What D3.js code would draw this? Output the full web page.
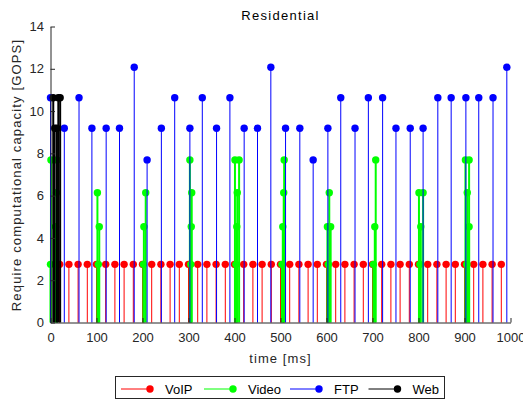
<!DOCTYPE html>
<html>
<head>
<meta charset="utf-8">
<script src="https://cdn.jsdelivr.net/npm/d3@7"></script>
<style>
  html, body { margin: 0; padding: 0; background: #fff; }
  svg { display: block; font-family: "Liberation Sans", Arial, Helvetica, sans-serif; }
</style>
</head>
<body>
<svg id="chart" width="523" height="400"></svg>
<script>
// [time in ms, required capacity in GOPS] per traffic class
const voip = [
  [20,2.75],[40,2.75],[60,2.75],[80,2.75],[100,2.75],[120,2.75],[140,2.75],[160,2.75],[180,2.75],[200,2.75],
  [220,2.75],[240,2.75],[260,2.75],[280,2.75],[300,2.75],[320,2.75],[340,2.75],[360,2.75],[380,2.75],[400,2.75],
  [420,2.75],[440,2.75],[460,2.75],[480,2.75],[500,2.75],[520,2.75],[540,2.75],[560,2.75],[580,2.75],[600,2.75],
  [620,2.75],[640,2.75],[660,2.75],[680,2.75],[700,2.75],[720,2.75],[740,2.75],[760,2.75],[780,2.75],[800,2.75],
  [820,2.75],[840,2.75],[860,2.75],[880,2.75],[900,2.75],[920,2.75],[940,2.75],[960,2.75],[980,2.75]
];
const video = [
  [0,2.75],[1,7.69],[11,4.53],[13,6.14],[14,7.69],
  [102,6.14],[104,2.75],[106,4.53],
  [202,2.75],[203,4.53],[207,6.14],
  [303,7.69],[305,2.75],[306,4.53],[307,6.14],
  [401,7.69],[403,2.75],[405,4.53],[406,6.14],[410,7.69],
  [503,2.75],[505,4.53],[507,6.14],[508,7.69],
  [602,4.53],[604,2.75],[606,6.14],[609,4.53],
  [702,2.75],[705,4.53],[707,7.69],
  [801,6.14],[803,2.75],[805,4.53],[810,6.14],
  [902,7.69],[905,2.75],[906,6.14],[910,4.53],[910,7.69]
];
const ftp = [
  [0,10.63],[30,9.19],[62,10.63],[90,9.19],[121,9.19],[150,9.19],[182,12.07],[210,7.69],
  [241,9.19],[270,10.63],[303,9.19],[330,10.63],[361,9.19],[390,10.63],[421,9.19],[450,9.19],
  [479,12.07],[511,9.19],[542,9.19],[571,7.69],[603,9.19],[631,10.63],[662,9.19],[691,10.63],
  [722,10.63],[751,9.19],[782,9.19],[810,9.19],[842,10.63],[871,10.63],[903,10.63],[931,10.63],
  [962,10.63],[992,12.07]
];
const web = [
  [6,10.63],[9,9.19],[14,9.19],[17,10.63],[21,10.63]
];

const seriesNames = ["VoIP", "Video", "FTP", "Web"];
const seriesColors = ["#ff0000", "#00ff00", "#0000ff", "#000000"];
const xTicks = [0,100,200,300,400,500,600,700,800,900,1000];
const yTicks = [0,2,4,6,8,10,12,14];

const svg = d3.select("#chart");
const axisColor = "#262626";
const margin = { left: 50.5, right: 12.5, top: 26.5, bottom: 77.5 };
const W = 523, H = 400;

const x = d3.scaleLinear().domain([0, 1000]).range([margin.left, W - margin.right]);
const y = d3.scaleLinear().domain([0, 14]).range([H - margin.bottom, margin.top]);

// stems: each series draws its stems, then its markers, in legend order
const allSeries = [voip, video, ftp, web];
const stemWidths = [1, 2, 1, 2];
allSeries.forEach((data, i) => {
  const g = svg.append("g").attr("class", "stem-" + seriesNames[i]);
  g.selectAll("line").data(data).join("line")
    .attr("x1", d => x(d[0])).attr("x2", d => x(d[0]))
    .attr("y1", y(0)).attr("y2", d => y(d[1]))
    .attr("stroke", seriesColors[i]).attr("stroke-width", stemWidths[i]);
  g.selectAll("circle").data(data).join("circle")
    .attr("cx", d => x(d[0])).attr("cy", d => y(d[1]))
    .attr("r", 3.7).attr("fill", seriesColors[i]);
});

// axes with inward ticks
const fmt = d3.format("d");
const xAxis = svg.append("g")
  .attr("transform", `translate(0,${y(0)})`)
  .call(d3.axisBottom(x).tickValues(xTicks).tickFormat(fmt)
    .tickSizeInner(-4.5).tickSizeOuter(0).tickPadding(10.5));
const yAxis = svg.append("g")
  .attr("transform", `translate(${x(0)},0)`)
  .call(d3.axisLeft(y).tickValues(yTicks).tickFormat(fmt)
    .tickSizeInner(-4.5).tickSizeOuter(0).tickPadding(6.5));
[xAxis, yAxis].forEach(a => {
  a.select(".domain").attr("stroke", axisColor);
  a.selectAll(".tick line").attr("stroke", axisColor);
  a.selectAll(".tick text").attr("fill", axisColor)
    .style("font-size", "13px").style("font-family", '"Liberation Sans", Arial, sans-serif');
});

// title and axis labels
svg.append("text")
  .attr("x", (x(0) + x(1000)) / 2).attr("y", 19.5)
  .attr("text-anchor", "middle").attr("fill", "#000")
  .style("font-size", "13px").style("letter-spacing", "1.3px")
  .text("Residential");
svg.append("text")
  .attr("x", (x(0) + x(1000)) / 2).attr("y", 363)
  .attr("text-anchor", "middle").attr("fill", axisColor)
  .style("font-size", "13px").style("letter-spacing", "1.1px")
  .text("time [ms]");
svg.append("text")
  .attr("transform", `translate(21,${175}) rotate(-90)`)
  .attr("text-anchor", "middle").attr("fill", axisColor)
  .style("font-size", "13px").style("letter-spacing", "1.15px")
  .text("Require computational capacity [GOPS]");

// legend
const legend = svg.append("g");
legend.append("rect")
  .attr("x", 115.5).attr("y", 376.5).attr("width", 329).attr("height", 22)
  .attr("fill", "#fff").attr("stroke", axisColor).attr("stroke-width", 1);
const legendX = [121, 204, 290, 368.5];
const legendY = 389;
seriesNames.forEach((name, i) => {
  const lx = legendX[i];
  legend.append("line")
    .attr("x1", lx).attr("x2", lx + 29).attr("y1", legendY).attr("y2", legendY)
    .attr("stroke", seriesColors[i]).attr("stroke-width", 1);
  legend.append("circle")
    .attr("cx", lx + 29).attr("cy", legendY).attr("r", 3.7).attr("fill", seriesColors[i]);
  legend.append("text")
    .attr("x", lx + 44).attr("y", 393.5).attr("fill", "#000")
    .style("font-size", "13px")
    .text(name);
});
</script>
</body>
</html>
